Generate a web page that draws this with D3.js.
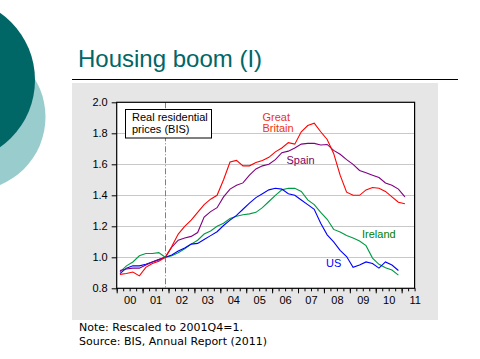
<!DOCTYPE html>
<html><head><meta charset="utf-8">
<script src="https://cdn.jsdelivr.net/npm/d3@7"></script>
<style>body{margin:0;background:#fff}svg{display:block}</style>
</head><body>
<svg id="c" width="480" height="359"></svg>
<script>
// ---- data (quarterly, 2000Q1 onward; rescaled 2001Q4 = 1) ----
const years = ["00","01","02","03","04","05","06","07","08","09","10","11"];
const quarters = years.flatMap(y => ["Q1","Q2","Q3","Q4"].map(q => "20" + y + q)).slice(0, 46);
const greatBritain = [0.89,0.895,0.905,0.88,0.935,0.96,0.975,1.0,1.07,1.15,1.2,1.24,1.29,1.34,1.375,1.40,1.50,1.615,1.625,1.59,1.59,1.612,1.625,1.645,1.68,1.705,1.74,1.73,1.81,1.85,1.865,1.81,1.76,1.67,1.53,1.42,1.40,1.40,1.435,1.45,1.445,1.425,1.39,1.355,1.345];
const spain = [0.915,0.925,0.93,0.93,0.95,0.97,0.985,1.0,1.065,1.11,1.125,1.135,1.16,1.26,1.295,1.32,1.39,1.44,1.465,1.48,1.53,1.57,1.59,1.60,1.63,1.675,1.685,1.705,1.73,1.735,1.735,1.725,1.728,1.69,1.665,1.63,1.60,1.56,1.545,1.53,1.515,1.48,1.465,1.44,1.39];
const ireland = [0.905,0.945,0.97,1.01,1.025,1.025,1.03,1.0,1.01,1.03,1.055,1.085,1.11,1.15,1.17,1.2,1.22,1.25,1.265,1.275,1.28,1.29,1.32,1.36,1.40,1.435,1.445,1.445,1.425,1.37,1.34,1.29,1.245,1.18,1.163,1.14,1.125,1.105,1.075,0.995,0.955,0.932,0.918,0.885];
const us = [0.895,0.93,0.945,0.945,0.955,0.97,0.985,1.0,1.015,1.04,1.06,1.085,1.09,1.115,1.14,1.165,1.205,1.24,1.27,1.31,1.35,1.385,1.41,1.435,1.445,1.44,1.41,1.40,1.37,1.34,1.31,1.22,1.145,1.10,1.045,1.005,0.935,0.95,0.97,0.96,0.93,0.97,0.95,0.915];
const yTicks = [0.8,1.0,1.2,1.4,1.6,1.8,2.0];
const baseQuarter = "2001Q4";

const svg = d3.select("#c");

// decorative circles
svg.append("circle").attr("cx",-28).attr("cy",117).attr("r",73.5).attr("fill","#99cccc");
svg.append("circle").attr("cx",-47).attr("cy",80).attr("r",82).attr("fill","#006666");

// title
svg.append("text").attr("x",78).attr("y",67).attr("font-family","Liberation Sans, Arial, sans-serif")
  .attr("font-size",24).attr("fill","#006666").text("Housing boom (I)");
svg.append("line").attr("x1",72).attr("x2",458).attr("y1",79.5).attr("y2",79.5).attr("stroke","#000").attr("stroke-width",1);

// gray panel
svg.append("rect").attr("x",72).attr("y",83).attr("width",366).attr("height",237).attr("fill","#e6e6e6");

const L = 116.7, R = 414.6, T = 102.3, B = 288.3;
const x = d3.scaleBand().domain(quarters).range([L, R]);
const xc = q => x(q) + x.bandwidth()/2;
const y = d3.scaleLinear().domain([0.8, 2.0]).range([B, T]);

const g = svg.append("g");
g.append("rect").attr("x",L).attr("y",T).attr("width",R-L).attr("height",B-T).attr("fill","#fff");

// grid
g.selectAll(".grid").data(yTicks.filter(v => v > 0.8 && v < 2.0)).join("line")
  .attr("x1",L).attr("x2",R).attr("y1",d=>Math.round(y(d))+0.5).attr("y2",d=>Math.round(y(d))+0.5)
  .attr("stroke","#c8c8c8").attr("stroke-width",1);

// dash-dot base line
g.append("line").attr("x1",Math.round(xc(baseQuarter))+0.5).attr("x2",Math.round(xc(baseQuarter))+0.5)
  .attr("y1",T).attr("y2",B).attr("stroke","#808080").attr("stroke-width",1).attr("stroke-dasharray","6,2,1,2");

// series
const series = [
  {vals: ireland, color:"#009944"},
  {vals: us, color:"#0000ff"},
  {vals: spain, color:"#800080"},
  {vals: greatBritain, color:"#ff0000"}
];
const line = d3.line().x((d,i)=>xc(quarters[i])).y(d=>y(d));
series.forEach(s => g.append("path").datum(s.vals).attr("d",line).attr("fill","none")
  .attr("stroke",s.color).attr("stroke-width",1.1));

// frame
g.append("rect").attr("x",L).attr("y",T).attr("width",R-L).attr("height",B-T)
  .attr("fill","none").attr("stroke","#000").attr("stroke-width",1.2);

const fnt = "Liberation Sans, Arial, sans-serif";
// y axis
const ya = svg.append("g").attr("transform",`translate(${L},0)`)
  .call(d3.axisLeft(y).tickValues(yTicks).tickFormat(d3.format(".1f")).tickSize(5).tickPadding(4));
ya.select(".domain").remove();
ya.selectAll("text").attr("font-family",fnt).attr("font-size",11).attr("fill","#000");
ya.selectAll("line").attr("stroke","#000");

// x axis: quarter ticks, year ticks, labels
const xl = d3.scaleLinear().domain([-0.5, quarters.length-0.5]).range([L, R]);
const qa = svg.append("g").attr("transform",`translate(0,${B})`)
  .call(d3.axisBottom(xl).tickValues(d3.range(0, quarters.length+1).map(i=>i-0.5)).tickSize(3).tickFormat(""));
qa.select(".domain").remove();
qa.selectAll("line").attr("stroke","#000");
const ja = svg.append("g").attr("transform",`translate(0,${B})`)
  .call(d3.axisBottom(xl).tickValues(d3.range(0, years.length).map(i=>i*4-0.5)).tickSize(5).tickFormat(""));
ja.select(".domain").remove();
ja.selectAll("line").attr("stroke","#000");
const la = svg.append("g").attr("transform",`translate(0,${B})`)
  .call(d3.axisBottom(xl).tickValues(d3.range(0, years.length).map(i=>i*4+1.5)).tickSize(0).tickPadding(8)
  .tickFormat((d,i)=>years[i]));
la.select(".domain").remove();
la.selectAll("text").attr("font-family",fnt).attr("font-size",11).attr("fill","#000");

// legend box
svg.append("rect").attr("x",125.5).attr("y",109.5).attr("width",86).attr("height",28.5).attr("fill","#fff").attr("stroke","#000");
svg.append("text").attr("x",132).attr("y",121).attr("font-family",fnt).attr("font-size",11).text("Real residential");
svg.append("text").attr("x",132).attr("y",132.5).attr("font-family",fnt).attr("font-size",11).text("prices (BIS)");

// series labels
const lab = (t,xx,yy,c) => svg.append("text").attr("x",xx).attr("y",yy).attr("font-family",fnt).attr("font-size",11).attr("fill",c).text(t);
lab("Great",262.5,121,"#ee3311");
lab("Britain",262.5,132,"#ee3311");
lab("Spain",286.5,163.5,"#800060");
lab("Ireland",362,238,"#008000");
lab("US",326,266.5,"#0000ff");

// notes
const nf = "DejaVu Sans, Verdana, sans-serif";
svg.append("text").attr("x",79).attr("y",331).attr("font-family",nf).attr("font-size",11).text("Note: Rescaled to 2001Q4=1.");
svg.append("text").attr("x",79).attr("y",345).attr("font-family",nf).attr("font-size",11).text("Source: BIS, Annual Report (2011)");
</script>
</body></html>
